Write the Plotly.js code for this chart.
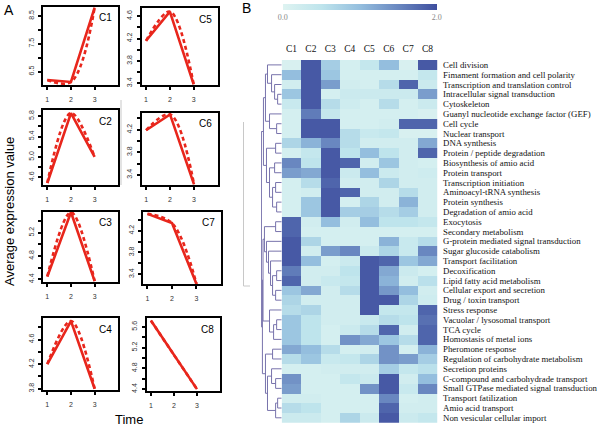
<!DOCTYPE html>
<html><head><meta charset="utf-8">
<script src="https://cdn.plot.ly/plotly-3.0.1.min.js"></script>
<style>html,body{margin:0;padding:0;background:#fff}#chart{width:600px;height:431px}</style>
</head><body><div id="chart"></div>
<script>
// ---------- Panel A data: average expression per cluster at time points 1,2,3 ----------
const time = [1, 2, 3];
const C1 = [6.20, 6.13, 8.80];
const C2 = [4.49, 5.86, 5.00];
const C3 = [4.45, 5.55, 4.37];
const C4 = [4.20, 4.90, 3.80];
const C5 = [4.16, 4.68, 3.38];
const C6 = [4.19, 4.47, 3.23];
const C7 = [4.51, 4.34, 3.22];
const C8 = [5.72, 5.06, 4.40];

// ---------- Panel B data ----------
const clusterNames = ['C1','C2','C3','C4','C5','C6','C7','C8'];
const categories = [
 'Cell division','Fimament formation and cell polarity','Transcription and translation control',
 'Intracellular signal transduction','Cytoskeleton','Guanyl nucleotide exchange factor (GEF)',
 'Cell cycle','Nuclear transport','DNA synthesis','Protein / peptide degradation',
 'Biosynthesis of amio acid','Protein transport','Transcription initiation','Aminoacyl-tRNA synthesis',
 'Protein synthesis','Degradation of amio acid','Exocytosis','Secondary metabolism',
 'G-protein mediated signal transduction','Sugar glucoside catabolism','Transport facilitation',
 'Decoxification','Lipid fatty acid metabolism','Cellular export and secretion','Drug / toxin transport',
 'Stress response','Vacuolar / lysosomal transport','TCA cycle','Homostasis of metal ions',
 'Pheromone response','Regulation of carbohydrate metabolism','Secretion proteins',
 'C-compound and carbohydrade transport','Small GTPase mediated signal transduction',
 'Transport fatilization','Amio acid transport','Non vesicular cellular import'
];
const heatC1 = [0.1,1.0,0.2,0.9,0.35,0.15,0.15,0.15,0.7,0.15,1.5,1.3,0.15,0.15,0.15,0.15,1.8,1.8,1.9,1.9,1.9,1.6,1.8,0.9,0.7,0.6,0.9,0.9,0.9,1.2,0.6,0.15,1.4,1.3,0.2,0.6,0.3];
const heatC2 = [1.9,1.9,1.9,1.9,1.9,1.6,1.9,1.9,1.1,0.4,0.5,1.2,0.6,0.2,0.9,0.9,0.2,0.15,0.7,0.2,1.0,0.2,0.2,1.2,0.2,0.7,0.5,0.5,0.5,1.0,0.9,0.15,0.15,0.15,0.2,0.5,0.3];
const heatC3 = [0.8,0.9,1.3,0.15,0.6,0.4,1.9,1.9,1.5,1.9,1.9,1.9,1.8,1.9,1.9,1.9,1.0,0.15,0.15,1.3,0.15,0.2,0.35,0.2,0.2,0.2,0.2,0.15,0.15,0.6,0.35,0.2,0.15,0.15,0.15,0.15,0.15];
const heatC4 = [0.15,0.15,0.2,0.3,0.25,0.15,0.15,0.6,0.6,0.5,1.8,0.3,0.2,1.8,0.15,0.8,0.2,0.15,0.15,1.5,0.3,0.5,0.4,0.6,0.2,0.2,0.2,0.3,1.4,0.15,0.4,0.2,0.4,0.15,0.15,0.15,0.7];
const heatC5 = [0.4,0.15,0.15,0.3,0.15,0.15,0.15,0.35,0.2,1.0,0.2,1.0,0.2,0.2,0.7,0.8,1.0,0.15,0.15,0.3,1.9,1.9,1.9,1.9,1.9,1.9,0.35,0.6,1.2,0.2,0.7,0.2,0.3,1.4,0.15,0.15,0.3];
const heatC6 = [1.0,0.15,0.6,0.3,0.6,0.15,0.2,0.4,0.2,0.5,0.9,0.3,0.7,0.2,0.2,0.6,0.5,0.15,1.1,0.7,1.8,1.2,1.1,1.35,1.9,0.4,0.6,1.8,0.9,1.4,1.4,0.8,1.9,1.9,1.5,1.8,1.9];
const heatC7 = [0.1,0.15,1.8,0.3,0.15,0.15,1.8,0.1,0.2,0.2,0.2,0.2,0.2,0.6,1.1,0.8,0.5,0.15,0.35,0.35,0.9,0.3,0.2,1.0,0.7,0.4,0.5,0.2,0.6,0.15,1.3,0.4,0.2,0.35,0.15,0.2,0.3];
const heatC8 = [1.9,0.4,0.3,1.3,0.3,0.1,1.8,0.1,1.2,1.8,0.15,0.25,0.2,0.2,0.2,0.2,0.4,0.15,0.6,1.5,1.2,0.15,0.55,0.2,0.25,1.8,1.7,1.8,1.8,1.1,0.8,0.55,1.0,1.5,0.2,0.2,0.4];
const colorTicks = [0, 2];
const colorTickText = ['0.0', '2.0'];

// dendrogram merges: [childA, childB, height]; leaves 0..36 are rows, new nodes numbered from 37
const merges = [
 [6,7,0.25],[5,37,0.6],[3,4,0.2],[2,39,0.35],[1,40,0.5],[0,41,0.7],[42,38,0.8],
 [8,9,0.3],[10,11,0.35],[12,13,0.3],[14,15,0.25],[46,47,0.45],[45,48,0.6],[44,49,0.75],
 [16,17,0.3],[21,22,0.25],[23,24,0.3],[52,53,0.45],[20,54,0.55],[19,55,0.65],[18,56,0.75],[51,57,0.85],
 [26,27,0.25],[59,28,0.4],[25,60,0.6],
 [29,30,0.45],[32,33,0.3],[31,63,0.5],[34,35,0.2],[65,36,0.3],[64,66,0.7],[62,67,0.8],
 [43,50,0.9],[58,61,0.92],[70,68,0.95],[69,71,1.0]
];

// ---------- build ----------
const W = 600, H = 431;
const px = v => v / W, py = v => 1 - v / H;
const RED = 'rgb(232,38,28)';
const sans = 'Liberation Sans, Arial, sans-serif';
const serif = 'Liberation Serif, Times New Roman, serif';

const panels = [
 {name:'C1', y:C1, fx:[43.3,118.3], fy:[6.7,85],   yr:[6.02,8.83], tv:[6.5,7,7.5,8,8.5], tt:['6.5','','7.5','','8.5']},
 {name:'C2', y:C2, fx:[43.3,118.3], fy:[110,185],  yr:[4.45,5.92], tv:[4.6,4.8,5.0,5.2,5.4,5.6,5.8], tt:['4.6','','5.0','','5.4','','5.8']},
 {name:'C3', y:C3, fx:[43.3,118.3], fy:[211.7,281.7], yr:[4.36,5.56], tv:[4.4,4.6,4.8,5.0,5.2,5.4], tt:['4.4','','4.8','','5.2','']},
 {name:'C4', y:C4, fx:[43.3,118.3], fy:[318,390],  yr:[3.78,4.95], tv:[3.8,4.0,4.2,4.4,4.6,4.8], tt:['3.8','','4.2','','4.6','']},
 {name:'C5', y:C5, fx:[142,217.5],  fy:[8.3,85],   yr:[3.37,4.74], tv:[3.4,3.6,3.8,4.0,4.2,4.4,4.6], tt:['3.4','','3.8','','4.2','','4.6']},
 {name:'C6', y:C6, fx:[142,218],    fy:[112.7,185], yr:[3.22,4.50], tv:[3.4,3.6,3.8,4.0,4.2,4.4], tt:['3.4','','3.8','','4.2','']},
 {name:'C7', y:C7, fx:[143.3,221],  fy:[211.7,284], yr:[3.22,4.55], tv:[3.4,3.6,3.8,4.0,4.2,4.4], tt:['3.4','','3.8','','4.2','']},
 {name:'C8', y:C8, fx:[147,220],    fy:[318,390.7], yr:[4.37,5.77], tv:[4.4,4.6,4.8,5.0,5.2,5.4,5.6], tt:['4.4','','4.8','','5.2','','5.6']}
];

const traces = [];
const layout = {
  width: W, height: H, margin:{l:0,r:0,t:0,b:0}, showlegend:false,
  paper_bgcolor:'#fff', plot_bgcolor:'#fff', font:{family:sans, color:'#000'},
  annotations: [], shapes: []
};

// faint panel-composition frame edges visible in the original figure
layout.shapes.push(
  {type:'line', xref:'paper', yref:'paper', x0:px(121), x1:px(121), y0:py(100), y1:py(185), line:{color:'#c8c8c8', width:1}},
  {type:'line', xref:'paper', yref:'paper', x0:px(243.5), x1:px(243.5), y0:py(122), y1:py(286), line:{color:'#c8c8c8', width:1}},
  {type:'line', xref:'paper', yref:'paper', x0:px(243.5), x1:px(250), y0:py(286), y1:py(286), line:{color:'#c8c8c8', width:1}}
);

panels.forEach((p, i) => {
  const k = i + 1, xs = k === 1 ? '' : String(k);
  traces.push({x: time, y: p.y, xaxis:'x'+xs, yaxis:'y'+xs, mode:'lines', line:{color:RED, width:2.6}, hoverinfo:'skip'});
  traces.push({x: time, y: p.y, xaxis:'x'+xs, yaxis:'y'+xs, mode:'lines', line:{color:RED, width:2.6, dash:'4px,3px', shape:'spline', smoothing:1}, hoverinfo:'skip'});
  const common = {showline:true, linewidth:2, linecolor:'#000', mirror:true, showgrid:false, zeroline:false,
    ticks:'outside', ticklen:3, tickwidth:2, tickcolor:'#000', tickfont:{family:sans, size:7, color:'#333'}, fixedrange:true};
  layout['xaxis'+xs] = Object.assign({}, common, {domain:[px(p.fx[0]), px(p.fx[1])], range:[0.83,4.0],
    tickvals:time, ticktext:time.map(String), anchor:'y'+xs, ticklabelstandoff:4});
  layout['yaxis'+xs] = Object.assign({}, common, {domain:[py(p.fy[1]), py(p.fy[0])], range:p.yr,
    tickvals:p.tv, ticktext:p.tt, tickangle:-90, anchor:'x'+xs, ticklabelstandoff:2});
  layout.annotations.push({xref:'paper', yref:'paper', x:px(p.fx[1]-4), y:py(p.fy[0]+11), xanchor:'right', yanchor:'middle',
    text:p.name, showarrow:false, font:{family:sans, size:10, color:'#000'}});
});

// heatmap
const heatCols = [heatC1, heatC2, heatC3, heatC4, heatC5, heatC6, heatC7, heatC8];
const z = categories.map((_, r) => heatCols.map(col => col[r]));
traces.push({type:'heatmap', x:clusterNames, y:categories, z:z, xaxis:'x9', yaxis:'y9', zmin:0, zmax:2,
  colorscale:[[0,'rgb(222,243,241)'],[0.25,'rgb(190,228,236)'],[0.5,'rgb(148,190,222)'],[0.75,'rgb(105,135,192)'],[1,'rgb(62,78,158)']],
  hoverinfo:'skip', xgap:0, ygap:0,
  colorbar:{orientation:'h', x:px(282.7), xanchor:'left', y:py(4), yanchor:'top', len:154, lenmode:'pixels',
    thickness:6, thicknessmode:'pixels', outlinewidth:0, xpad:0, ypad:0, tickvals:colorTicks, ticktext:colorTickText,
    ticks:'', tickfont:{family:serif, size:8, color:'#888'}}
});
layout.xaxis9 = {domain:[px(281.7), px(437.3)], anchor:'y9', side:'top', showgrid:false, zeroline:false, showline:false,
  tickmode:'array', tickvals:clusterNames, ticktext:clusterNames,
  ticks:'outside', ticklen:3, tickcolor:'rgba(0,0,0,0)', tickfont:{family:serif, size:9.5, color:'#111'}, fixedrange:true};
layout.yaxis9 = {domain:[py(422.7), py(60)], anchor:'x9', side:'right', autorange:'reversed', showgrid:false, zeroline:false,
  tickmode:'array', tickvals:categories, ticktext:categories,
  showline:false, ticks:'outside', ticklen:3, tickcolor:'rgba(0,0,0,0)', tickfont:{family:serif, size:8.8, color:'#111'}, fixedrange:true};

// dendrogram
const nodeY = categories.map((_, i) => i), nodeH = categories.map(() => 0);
const dx = [], dy = [];
merges.forEach(([a, b, h]) => {
  dx.push(nodeH[a], h, h, nodeH[b], null);
  dy.push(nodeY[a], nodeY[a], nodeY[b], nodeY[b], null);
  nodeY.push((nodeY[a] + nodeY[b]) / 2); nodeH.push(h);
});
traces.push({x:dx, y:dy, xaxis:'x10', yaxis:'y10', mode:'lines', line:{color:'rgb(120,115,172)', width:1}, hoverinfo:'skip'});
layout.xaxis10 = {domain:[px(261), px(281.7)], anchor:'y10', range:[1.02, 0], visible:false, fixedrange:true};
layout.yaxis10 = {domain:[py(422.7), py(60)], anchor:'x10', range:[categories.length - 0.5, -0.5], visible:false, fixedrange:true};

// titles / panel letters
layout.annotations.push(
  {xref:'paper', yref:'paper', x:px(9), y:py(212), text:'Average expression value', textangle:-90, showarrow:false,
   font:{family:sans, size:13, color:'#000'}, xanchor:'center', yanchor:'middle'},
  {xref:'paper', yref:'paper', x:px(129), y:py(419), text:'Time', showarrow:false,
   font:{family:sans, size:13, color:'#000'}, xanchor:'center', yanchor:'middle'},
  {xref:'paper', yref:'paper', x:px(2), y:py(10), text:'A', showarrow:false,
   font:{family:sans, size:14, color:'#000'}, xanchor:'left', yanchor:'middle'},
  {xref:'paper', yref:'paper', x:px(240), y:py(8), text:'B', showarrow:false,
   font:{family:sans, size:14, color:'#000'}, xanchor:'left', yanchor:'middle'}
);

Plotly.newPlot('chart', traces, layout, {staticPlot:true, displayModeBar:false});
</script></body></html>
